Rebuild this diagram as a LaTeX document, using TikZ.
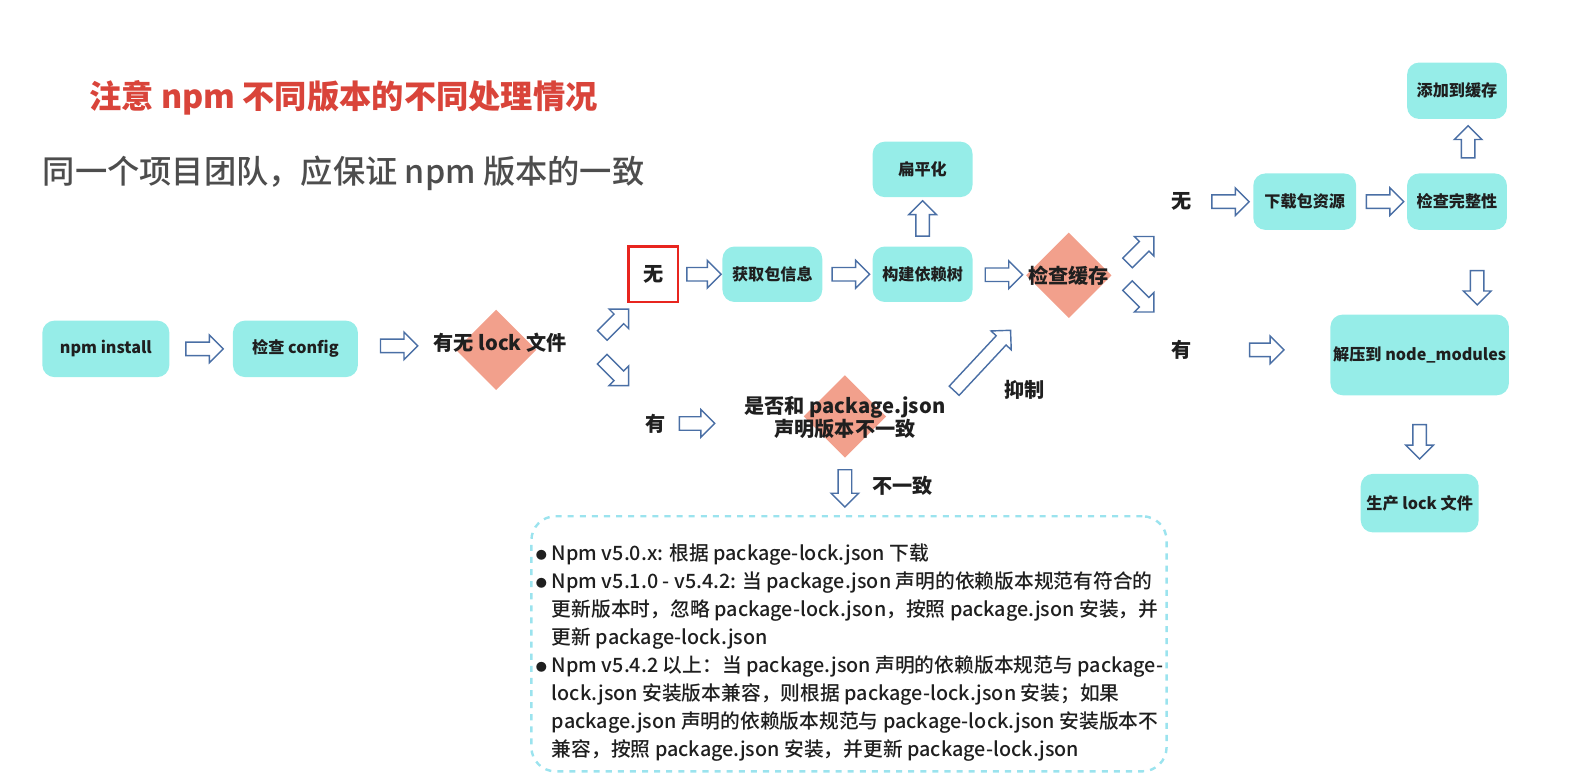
\documentclass[tikz,border=0pt]{standalone}
\usepackage{fontspec}
\setmainfont{Noto Sans CJK SC}
\newfontfamily\mittel{Noto Sans CJK SC Medium}
\usepackage{tikz}
\usetikzlibrary{arrows.meta, calc, positioning, shapes.geometric, shapes.arrows}
\definecolor{kasten}{HTML}{96EDE8}
\definecolor{raute}{HTML}{F2A08C}
\definecolor{pfeil}{HTML}{4A6FA5}
\definecolor{akzent}{HTML}{D9443A}
\definecolor{grau}{HTML}{4D4D4D}
\definecolor{rahmen}{HTML}{E8251F}
\definecolor{strich}{HTML}{9BE3EE}
\newcommand{\punkt}{\makebox[8pt][l]{\raisebox{0.5pt}{\fontsize{5.5}{5.5}\selectfont ●}}}

\begin{document}
\begin{tikzpicture}[x=0.5pt, y=-0.5pt,
    box/.style={fill=kasten, rounded corners=6pt, inner sep=0pt,
      text=black!88, font=\bfseries\fontsize{8}{10}\selectfont,
      minimum width=49.5pt, minimum height=27.5pt},
    entscheid/.style={diamond, fill=raute, inner sep=0pt, aspect=1},
    marke/.style={inner sep=0pt, text=black!88,
      font=\bfseries\fontsize{10}{12}\selectfont},
    blockpfeil/.style={single arrow, draw=pfeil, fill=white,
      line width=0.7pt, inner xsep=0pt, inner ysep=3pt,
      single arrow head extend=3.5pt, minimum height=18.5pt}]
  \useasboundingbox (0,0) rectangle (1568,770);

  % Ueberschriften
  \node[anchor=west, inner sep=0pt, text=akzent,
    font=\bfseries\fontsize{16}{19}\selectfont] (titel) at (88,97)
    {注意 npm 不同版本的不同处理情况};
  \node[anchor=west, inner sep=0pt, text=grau,
    font=\mittel\fontsize{16}{19}\selectfont] (untertitel) at (42,172)
    {同一个项目团队，应保证 npm 版本的一致};

  % Rauten
  \node[entscheid, minimum size=40pt] (lockraute) at (492,347) {};
  \node[entscheid, minimum size=42.5pt] (cacheraute) at (1060,273) {};
  \node[entscheid, minimum size=41pt] (versraute) at (838,413) {};

  % Kaesten
  \node[box, minimum width=63pt, minimum height=28pt] (install) at (105,346) {npm install};
  \node[box, minimum width=62pt, minimum height=28pt] (config) at (293,346) {检查 config};
  \node[marke] (lockfrage) at (496,340) {有无 lock 文件};
  \node[marke, draw=rahmen, line width=1.2pt, minimum width=24.5pt,
    minimum height=27.5pt] (ohnelock) at (648,272) {无};
  \node[box] (info) at (766,272) {获取包信息};
  \node[box] (baum) at (915,272) {构建依赖树};
  \node[box] (flach) at (915,168) {扁平化};
  \node[marke] (cachefrage) at (1060,273) {检查缓存};
  \node[marke] (ohnecache) at (1172,200) {无};
  \node[box, minimum width=51pt, minimum height=28pt] (laden) at (1294,200) {下载包资源};
  \node[box, minimum height=28pt] (pruefen) at (1445,200) {检查完整性};
  \node[box, minimum height=28pt] (cachen) at (1445,90) {添加到缓存};
  \node[marke] (mitcache) at (1172,347) {有};
  \node[box, minimum width=88.5pt, minimum height=40pt] (entpacken) at (1408,352) {解压到 node\_modules};
  \node[box, minimum width=58.5pt, minimum height=29pt] (lockdatei) at (1408,499) {生产 lock 文件};
  \node[marke] (mitlock) at (650,420) {有};
  \node[marke, align=center, font=\bfseries\fontsize{10}{11.5}\selectfont]
    (versfrage) at (838,414) {是否和 package.json\\声明版本不一致};
  \node[marke] (hemmen) at (1016,387) {抑制};
  \node[marke] (ungleich) at (895,482) {不一致};

  % Hinweise
  \node[draw=strich, dashed, line width=1.2pt, rounded corners=12pt,
    minimum width=315pt, minimum height=126.5pt] (rahmenkasten) at (842,638.5) {};
  \node[anchor=north west, inner sep=0pt, align=left, text=black!88,
    font=\mittel\fontsize{9.8}{13.9}\selectfont] (hinweise) at (531,539)
    {\punkt Npm v5.0.x: 根据 package-lock.json 下载\\
     \punkt Npm v5.1.0 - v5.4.2: 当 package.json 声明的依赖版本规范有符合的\\
     \hspace*{8pt}更新版本时，忽略 package-lock.json，按照 package.json 安装，并\\
     \hspace*{8pt}更新 package-lock.json\\
     \punkt Npm v5.4.2 以上：当 package.json 声明的依赖版本规范与 package-\\
     \hspace*{8pt}lock.json 安装版本兼容，则根据 package-lock.json 安装；如果\\
     \hspace*{8pt}package.json 声明的依赖版本规范与 package-lock.json 安装版本不\\
     \hspace*{8pt}兼容，按照 package.json 安装，并更新 package-lock.json};

  % Pfeile
  \node[blockpfeil] (p1) at ($(install.east)!0.5!(config.west)$) {};
  \node[blockpfeil] (p2) at ($(config.east)!0.5!(lockfrage.west)$) {};
  \node[blockpfeil, rotate=45] (p3) at (608,322) {};
  \node[blockpfeil, rotate=-45] (p4) at (608,367) {};
  \node[blockpfeil, minimum height=17pt] (p5) at ($(ohnelock.east)!0.5!(info.west)$) {};
  \node[blockpfeil] (p6) at ($(info.east)!0.5!(baum.west)$) {};
  \node[blockpfeil, rotate=90, minimum height=17.5pt] (p7) at ($(baum.north)!0.5!(flach.south)$) {};
  \node[blockpfeil] (p8) at ($(baum.east)!0.5!(cachefrage.west)$) {};
  \node[blockpfeil, rotate=45] (p9) at (1129,250) {};
  \node[blockpfeil, rotate=-45] (p10) at (1129,294) {};
  \node[blockpfeil] (p11) at (1217,200) {};
  \node[blockpfeil] (p12) at ($(laden.east)!0.5!(pruefen.west)$) {};
  \node[blockpfeil, rotate=90, minimum height=16pt] (p13) at (1456,144) {};
  \node[blockpfeil, rotate=-90, minimum height=17pt] (p14) at (1465,282) {};
  \node[blockpfeil, minimum height=17pt] (p15) at (1253,347) {};
  \node[blockpfeil, rotate=-90, minimum height=17pt] (p16) at ($(entpacken.south)!0.55!(lockdatei.north)$) {};
  \node[blockpfeil, minimum height=17.5pt] (p17) at (688,420) {};
  \node[blockpfeil, rotate=47, minimum height=41pt] (p18) at (972,360) {};
  \node[blockpfeil, rotate=-90] (p19) at (838,481) {};
\end{tikzpicture}
\end{document}
